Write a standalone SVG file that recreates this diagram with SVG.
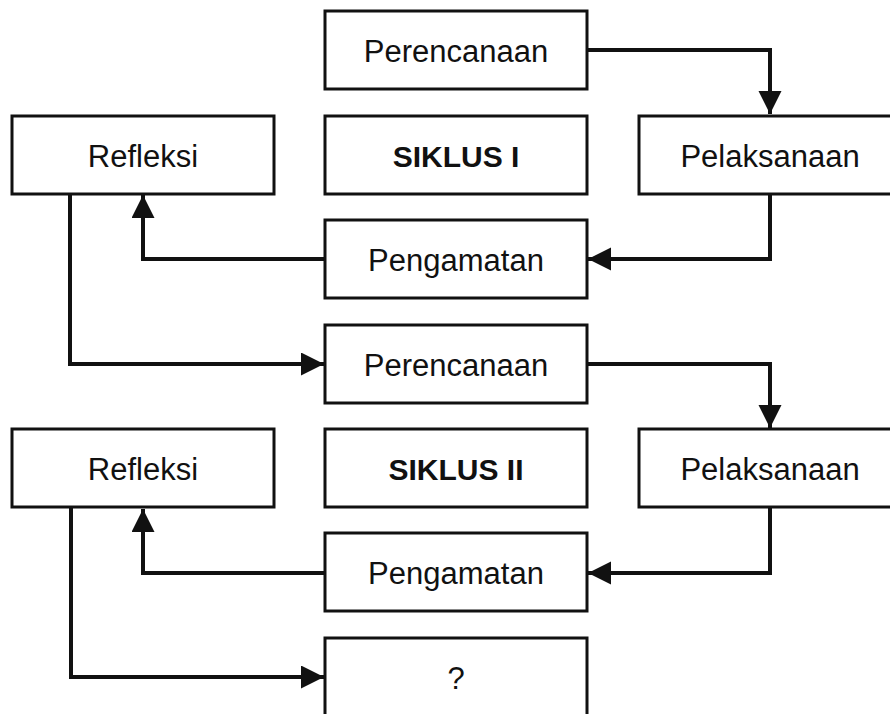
<svg xmlns="http://www.w3.org/2000/svg" width="890" height="714" viewBox="0 0 890 714">
<style>
.box{fill:#fff;stroke:#111;stroke-width:3}
.t{font-family:"Liberation Sans",Arial,sans-serif;font-size:31px;fill:#111;text-anchor:middle}
.b{font-weight:bold;font-size:30px}
.c{fill:none;stroke:#111;stroke-width:4;stroke-linejoin:miter}
</style>
<defs>
<marker id="ah" markerUnits="userSpaceOnUse" markerWidth="24" markerHeight="24" refX="23" refY="11.5" orient="auto" viewBox="0 0 24 24">
<path d="M0,0 L23,11.5 L0,23 z" fill="#111"/>
</marker>
</defs>
<rect width="890" height="714" fill="#fff"/>
<g id="connectors">
<path class="c" d="M587,50 H770 V114" marker-end="url(#ah)"/>
<path class="c" d="M770,194 V259 H588" marker-end="url(#ah)"/>
<path class="c" d="M325,259 H143 V195" marker-end="url(#ah)"/>
<path class="c" d="M70,194 V364 H324" marker-end="url(#ah)"/>
<path class="c" d="M587,364 H770 V428" marker-end="url(#ah)"/>
<path class="c" d="M770,508 V573 H588" marker-end="url(#ah)"/>
<path class="c" d="M325,573 H143 V509" marker-end="url(#ah)"/>
<path class="c" d="M71,508 V677 H324" marker-end="url(#ah)"/>
</g>
<g id="perencanaan1"><rect class="box" x="325" y="11" width="262" height="78"/><text class="t" x="456" y="62">Perencanaan</text></g>
<g id="refleksi1"><rect class="box" x="12" y="116" width="262" height="78"/><text class="t" x="143" y="167">Refleksi</text></g>
<g id="siklus1"><rect class="box" x="325" y="116" width="262" height="78"/><text class="t b" x="456" y="167">SIKLUS I</text></g>
<g id="pelaksanaan1"><rect class="box" x="639" y="116" width="262" height="78"/><text class="t" x="770" y="167">Pelaksanaan</text></g>
<g id="pengamatan1"><rect class="box" x="325" y="220" width="262" height="78"/><text class="t" x="456" y="271">Pengamatan</text></g>
<g id="perencanaan2"><rect class="box" x="325" y="325" width="262" height="78"/><text class="t" x="456" y="376">Perencanaan</text></g>
<g id="refleksi2"><rect class="box" x="12" y="429" width="262" height="78"/><text class="t" x="143" y="480">Refleksi</text></g>
<g id="siklus2"><rect class="box" x="325" y="429" width="262" height="78"/><text class="t b" x="456" y="480">SIKLUS II</text></g>
<g id="pelaksanaan2"><rect class="box" x="639" y="429" width="262" height="78"/><text class="t" x="770" y="480">Pelaksanaan</text></g>
<g id="pengamatan2"><rect class="box" x="325" y="533" width="262" height="78"/><text class="t" x="456" y="584">Pengamatan</text></g>
<g id="unknown"><rect class="box" x="325" y="638" width="262" height="78"/><text class="t" x="456" y="689">?</text></g>
</svg>
